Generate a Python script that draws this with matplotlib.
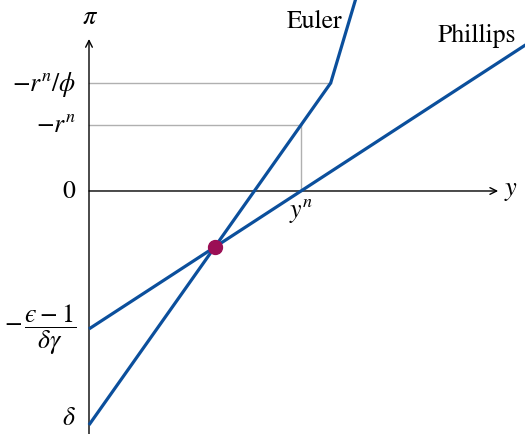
import matplotlib.pyplot as plt
import numpy as np

plt.rcParams['mathtext.fontset'] = 'stix'
plt.rcParams['font.family'] = ['STIXGeneral', 'DejaVu Serif']

# output measured in units of y^n, inflation in units of r^n
euler_y = [0.0, 1.14, 1.26]
euler_pi = [-3.545, 1.636, 2.93]
phillips_y = [0.0, 2.06]
phillips_pi = [-2.09, 2.215]

y_n = 1.0
r_n = 1.0
r_n_phi = 1.636

tick_pos = [1.636, 1.0, 0.0, -2.09, -3.545]
tick_labels = [r'$-r^n/\phi$', r'$-r^n$', r'$0$',
               '$-\\,\\dfrac{\u03f5-1}{\\delta\\gamma}$', r'$\delta$']

blue = '#0b4f9c'
dot = '#9b0f55'

fig = plt.figure(figsize=(5.25, 4.35), dpi=100)
ax = fig.add_axes([0, 0, 1, 1])
ax.set_xlim(-0.4198, 2.0566)
ax.set_ylim(-3.682, 2.909)
ax.axis('off')

# guide lines to the kink and to the natural output point
ax.plot([0, euler_y[1]], [r_n_phi, r_n_phi], color='#b0b0b0', lw=1.0, zorder=1)
ax.plot([0, y_n], [r_n, r_n], color='#b0b0b0', lw=1.0, zorder=1)
ax.plot([y_n, y_n], [0, r_n], color='#b0b0b0', lw=1.0, zorder=1)

# axes with arrows
ax.annotate('', xy=(1.93, 0), xytext=(0, 0),
            arrowprops=dict(arrowstyle='->', lw=1.0, color='black',
                            shrinkA=0, shrinkB=0, mutation_scale=12), zorder=2)
ax.annotate('', xy=(0, 2.303), xytext=(0, -3.682),
            arrowprops=dict(arrowstyle='->', lw=1.0, color='black',
                            shrinkA=0, shrinkB=0, mutation_scale=12), zorder=2)

ax.plot(euler_y, euler_pi, color=blue, lw=2.3, zorder=3, solid_capstyle='butt')
ax.plot(phillips_y, phillips_pi, color=blue, lw=2.3, zorder=3, solid_capstyle='butt')

# intersection of the lower Euler segment and the Phillips curve
a1 = (euler_pi[1] - euler_pi[0]) / (euler_y[1] - euler_y[0])
a2 = (phillips_pi[1] - phillips_pi[0]) / (phillips_y[1] - phillips_y[0])
yi = (phillips_pi[0] - euler_pi[0]) / (a1 - a2)
pii = euler_pi[0] + a1 * yi
ax.plot([yi], [pii], 'o', color=dot, ms=10, zorder=4)

for p, lab in zip(tick_pos, tick_labels):
    # keep the lowest label inside the figure
    p = max(p, -3.44)
    ax.text(-0.06, p, lab, ha='right', va='center', fontsize=18.5)

ax.text(y_n, -0.07, r'$y^n$', ha='center', va='top', fontsize=18.5)
ax.text(1.99, 0.02, r'$y$', ha='center', va='center', fontsize=19)
ax.text(0.005, 2.64, r'$\pi$', ha='center', va='center', fontsize=19)
ax.text(1.065, 2.57, 'Euler', ha='center', va='center', fontsize=18.5)
ax.text(1.83, 2.37, 'Phillips', ha='center', va='center', fontsize=18.5)

fig.savefig('out.png', dpi=100)
